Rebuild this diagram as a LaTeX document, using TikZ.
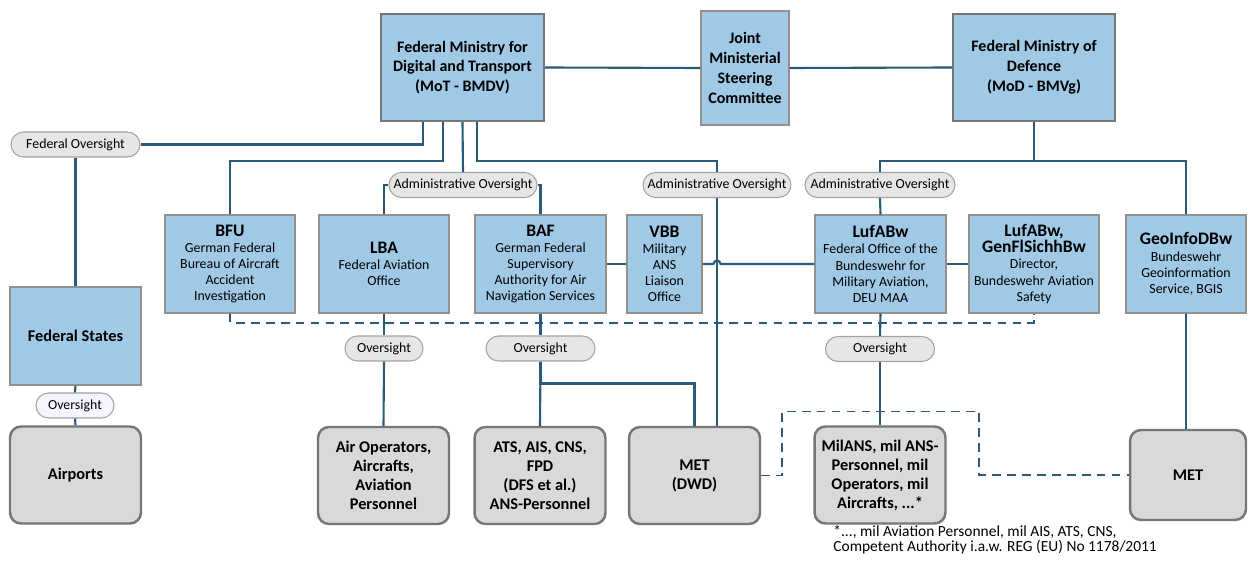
\documentclass[tikz,border=0pt]{standalone}
\usepackage{fontspec}
\setmainfont{Carlito}
\usepackage{tikz}
\usetikzlibrary{calc}

\definecolor{boxblue}{HTML}{9FC9E5}
\definecolor{linkblue}{HTML}{2A5A7A}
\definecolor{pillgrey}{HTML}{E6E6E6}
\definecolor{pillline}{HTML}{A3A3A3}
\definecolor{unitgrey}{HTML}{D9D9D9}
\definecolor{frame}{HTML}{767676}

\newcommand{\unithead}[1]{{\fontsize{10}{12}\selectfont\bfseries #1}}

\begin{document}
\begin{tikzpicture}[x = 0.02cm, y = -0.02cm,
  ministry/.style = {draw = frame, line width = 1.3pt, fill = boxblue, align = center,
    font = \fontsize{9.1}{11.3}\selectfont\bfseries, inner sep = 0pt},
  agency/.style = {draw = frame!80, line width = 0.8pt, fill = boxblue, align = center,
    font = \fontsize{7.9}{9.2}\selectfont, minimum height = 1.96cm, inner sep = 0pt},
  pill/.style = {draw = pillline, line width = 0.6pt, fill = pillgrey, rounded corners = 0.25cm,
    minimum height = 0.5cm, font = \fontsize{7.9}{9}\selectfont, inner sep = 0pt},
  unit/.style = {draw = frame, line width = 1.4pt, fill = unitgrey, rounded corners = 0.22cm,
    align = center, minimum width = 2.62cm, minimum height = 1.94cm,
    font = \fontsize{9.3}{10.8}\selectfont\bfseries, inner sep = 0pt},
  link/.style = {draw = linkblue, line width = 1.2pt},
  dashlink/.style = {link, line width = 1pt, dash pattern = on 5pt off 3.5pt}]
\useasboundingbox (0, 0) rectangle (1250, 563);

% ministries
\node (mot) [ministry, minimum width = 3.26cm, minimum height = 2.14cm] at (462.5, 67.5) {Federal Ministry for\\Digital and Transport\\(MoT - BMDV)};
\node (jmsc) [ministry, draw = frame!80, line width = 0.8pt, minimum width = 1.76cm, minimum height = 2.28cm] at (745, 68) {Joint\\Ministerial\\Steering\\Committee};
\node (mod) [ministry, minimum width = 3.24cm, minimum height = 2.14cm] at (1034, 67.5) {Federal Ministry of\\Defence\\(MoD - BMVg)};

% oversight labels
\node (fedov) [pill, minimum width = 2.58cm] at (75.5, 144.5) {Federal Oversight};
\node (admA) [pill, minimum width = 2.96cm] at (463, 185) {Administrative Oversight};
\node (admB) [pill, minimum width = 2.96cm] at (717, 185) {Administrative Oversight};
\node (admC) [pill, minimum width = 3.0cm] at (880, 185) {Administrative Oversight};

% agencies
\node (bfu) [agency, minimum width = 2.6cm] at (230, 264) {\unithead{BFU}\\German Federal\\Bureau of Aircraft\\Accident\\Investigation};
\node (lba) [agency, minimum width = 2.6cm] at (384, 264) {\unithead{LBA}\\Federal Aviation\\Office};
\node (baf) [agency, minimum width = 2.62cm] at (540.5, 264) {\unithead{BAF}\\German Federal\\Supervisory\\Authority for Air\\Navigation Services};
\node (vbb) [agency, minimum width = 1.5cm] at (664.5, 264) {\unithead{VBB}\\Military\\ANS\\Liaison\\Office};
\node (luf) [agency, minimum width = 2.62cm] at (880.5, 264) {\unithead{LufABw}\\Federal Office of the\\Bundeswehr for\\Military Aviation,\\DEU MAA};
\node (gen) [agency, minimum width = 2.6cm] at (1034, 264) {\unithead{LufABw,}\\\unithead{GenFlSichhBw}\\Director,\\Bundeswehr Aviation\\Safety};
\node (geo) [agency, minimum width = 2.4cm] at (1186, 264) {\unithead{GeoInfoDBw}\\Bundeswehr\\Geoinformation\\Service, BGIS};
\node (fedst) [agency, minimum width = 2.62cm, font = \fontsize{9.3}{11}\selectfont\bfseries] at (75.5, 336) {Federal States};

\node (fsov) [pill, fill = blue!4, minimum width = 1.56cm] at (75, 405.5) {Oversight};
\node (lbaov) [pill, minimum width = 1.56cm] at (384, 348.5) {Oversight};
\node (bafov) [pill, minimum width = 2.18cm] at (540.5, 348.5) {Oversight};
\node (lufov) [pill, minimum width = 2.18cm] at (880, 349) {Oversight};

% supervised
\node (airports) [unit] at (75.5, 475) {Airports};
\node (airops) [unit] at (383.5, 475.5) {Air Operators,\\Aircrafts,\\Aviation\\Personnel};
\node (ats) [unit] at (540, 475.5) {ATS, AIS, CNS,\\FPD\\(DFS et al.)\\ANS-Personnel};
\node (metd) [unit] at (694.5, 475.5) {MET\\(DWD)};
\node (milans) [unit] at (880, 475) {MilANS, mil ANS-\\Personnel, mil\\Operators, mil\\Aircrafts, ...*};
\node (met) [unit, minimum width = 2.32cm, minimum height = 1.8cm] at (1188, 475) {MET};

\node (note) [anchor = north west, align = left, inner sep = 0pt, font = \fontsize{8.8}{8.4}\selectfont] at (833, 525) {*..., mil Aviation Personnel, mil AIS, ATS, CNS,\\Competent Authority i.a.w. REG (EU) No 1178/2011};

% connectors
\draw [link] (mot.east) -- (jmsc.west);
\draw [link] (jmsc.east) -- (mod.west);
\draw [link] ([xshift = -0.79cm] mot.south) |- (fedov.east);
\draw [link] (fedov.south) -- (fedst.north);
\draw [link] (fedst.south) -- (fsov.north);
\draw [link] (fsov.south) -- (airports.north);
\draw [link] ([xshift = -0.39cm] mot.south) -- ++(0, 39) -| (bfu.north);
\draw [link] (mot.south) -- (admA.north);
\draw [link] (admA.west) -| (lba.north);
\draw [link] (admA.east) -| (baf.north);
\draw [link] ([xshift = 0.29cm] mot.south) -- ++(0, 39) -| (admB.north);
\draw [link] (admB.south) -- (admB.south |- metd.north);
\draw [link] (mod.south) -- ++(0, 39) -| (admC.north);
\draw [link] (mod.south) -- ++(0, 39) -| (geo.north);
\draw [link] (admC.south) -- (luf.north);
\draw [link] (baf.east) -- (vbb.west);
\draw [link] (vbb.east) -- ($(vbb.east -| admB.south) + (-3.5, 0)$) arc [start angle = 180, end angle = 0, radius = 0.07cm] -- (luf.west);
\draw [link] (luf.east) -- (gen.west);
\draw [link] (lba.south) -- (lbaov.north);
\draw [link] (lbaov.south) -- (airops.north);
\draw [link] (baf.south) -- (bafov.north);
\draw [link] (bafov.south) -- (ats.north);
\draw [link] (bafov.south) -- ++(0, 22) -| (metd.north);
\draw [link] (luf.south) -- (lufov.north);
\draw [link] (lufov.south) -- (milans.north);
\draw [link] (geo.south) -- (geo.south |- met.north);
\draw [dashlink] (bfu.south) -- ++(0, 9) -| (gen.south);
\draw [dashlink] (metd.east) -- ++(21, 0) -- ++(0, -64) -- ++(197, 0) |- (met.west);
\end{tikzpicture}
\end{document}
